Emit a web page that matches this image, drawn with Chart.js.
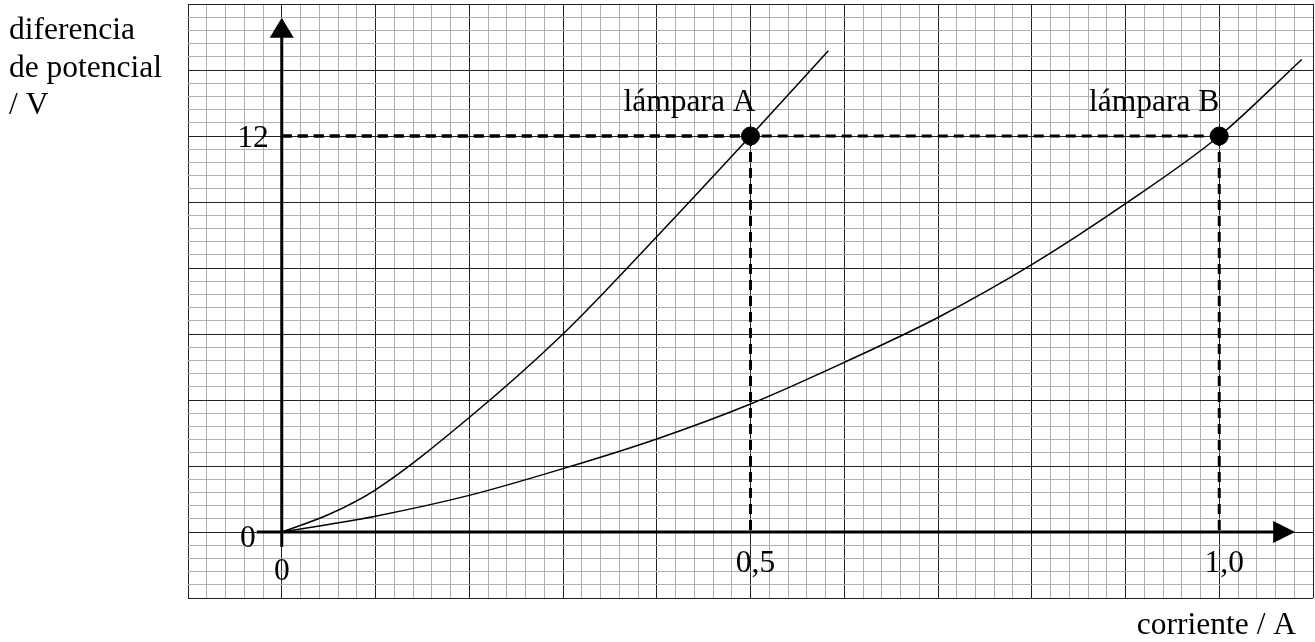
<!DOCTYPE html>
<html>
<head>
<meta charset="utf-8">
<script src="https://cdn.jsdelivr.net/npm/chart.js@4.4.1/dist/chart.umd.min.js"></script>
<style>
  html, body { margin: 0; padding: 0; background: #fff; }
  canvas { display: block; }
</style>
</head>
<body>
<canvas id="ivChart" width="1315" height="642"></canvas>
<script>
// I-V curves (current in A, potential difference in V)
const lampA_I = [0, 0.05, 0.1, 0.2, 0.3, 0.4, 0.5, 0.583];
const lampA_V = [0, 0.53, 1.28, 3.47, 6.0, 8.95, 12, 14.58];
const lampB_I = [0, 0.05, 0.1, 0.2, 0.3, 0.4, 0.5, 0.6, 0.7, 0.8, 0.9, 1.0, 1.088];
const lampB_V = [0, 0.23, 0.48, 1.11, 1.92, 2.82, 3.88, 5.14, 6.5, 8.1, 9.95, 12, 14.32];

// marked operating points
const opLabels = ['lámpara A', 'lámpara B'];
const opCurrent = [0.5, 1.0];
const opVoltage = [12, 12];

// axis numbers and titles
const xTickValues = [0, 0.5, 1.0];
const xTickLabels = ['0', '0,5', '1,0'];
const yTickValues = [0, 12];
const yTickLabels = ['0', '12'];
const yTitle = ['diferencia', 'de potencial', '/ V'];
const xTitle = 'corriente / A';

const FONT = '31.5px "Liberation Serif", "Times New Roman", serif';

const toPoints = (xs, ys) => xs.map((v, i) => ({ x: v, y: ys[i] }));

// major line every 5 minor squares
const isMajor = (v, step) => Math.abs(v / step - Math.round(v / step)) < 1e-6;

const paperPlugin = {
    id: 'paper',
    beforeDatasetsDraw(chart) {
        const { ctx, scales: { x, y } } = chart;
        const x0 = x.getPixelForValue(0);
        const y0 = y.getPixelForValue(0);
        ctx.save();
        ctx.strokeStyle = '#000';
        ctx.fillStyle = '#000';
        ctx.lineWidth = 3;

        // horizontal axis with arrow
        const xTip = x.getPixelForValue(1.081);
        ctx.beginPath();
        ctx.moveTo(x0 - 25, y0);
        ctx.lineTo(xTip - 20, y0);
        ctx.stroke();
        ctx.beginPath();
        ctx.moveTo(xTip, y0);
        ctx.lineTo(xTip - 22, y0 - 11);
        ctx.lineTo(xTip - 22, y0 + 11);
        ctx.closePath();
        ctx.fill();

        // vertical axis with arrow
        const yTip = y.getPixelForValue(15.58);
        ctx.beginPath();
        ctx.moveTo(x0, y0 + 15);
        ctx.lineTo(x0, yTip + 18);
        ctx.stroke();
        ctx.beginPath();
        ctx.moveTo(x0, yTip);
        ctx.lineTo(x0 - 12, yTip + 20);
        ctx.lineTo(x0 + 12, yTip + 20);
        ctx.closePath();
        ctx.fill();
        ctx.restore();
    },
    afterDraw(chart) {
        const { ctx, scales: { x, y } } = chart;
        const x0 = x.getPixelForValue(0);
        const y0 = y.getPixelForValue(0);
        ctx.save();
        ctx.fillStyle = '#000';
        ctx.font = FONT;
        ctx.textBaseline = 'alphabetic';

        // numbers on the current axis
        ctx.textAlign = 'center';
        xTickValues.forEach((v, i) => {
            const px = x.getPixelForValue(v) + (i === 0 ? 0 : 5);
            ctx.fillText(xTickLabels[i], px, y0 + (i === 0 ? 48 : 40));
        });

        // numbers on the voltage axis
        ctx.textAlign = 'right';
        yTickValues.forEach((v, i) => {
            const py = y.getPixelForValue(v);
            if (v === 0) ctx.fillText(yTickLabels[i], x0 - 26, py + 15);
            else ctx.fillText(yTickLabels[i], x0 - 13, py + 11);
        });

        // lamp names above their points
        opLabels.forEach((t, i) => {
            ctx.fillText(t, x.getPixelForValue(opCurrent[i]) + (i === 0 ? 5 : 0), y.getPixelForValue(opVoltage[i]) - 25);
        });

        // axis titles outside the paper
        ctx.textAlign = 'left';
        yTitle.forEach((t, i) => ctx.fillText(t, 9, 39 + i * 37.5));
        ctx.textAlign = 'right';
        ctx.fillText(xTitle, 1296, 634);
        ctx.restore();
    }
};

// dashed guides from each operating point to both axes
const guides = [];
opCurrent.forEach((c, i) => {
    guides.push([{ x: 0, y: opVoltage[i] }, { x: c, y: opVoltage[i] }]);
    guides.push([{ x: c, y: opVoltage[i] }, { x: c, y: 0 }]);
});

new Chart(document.getElementById('ivChart'), {
    type: 'scatter',
    data: {
        datasets: [
            {
                label: 'lámpara A',
                data: toPoints(lampA_I, lampA_V),
                showLine: true,
                borderColor: '#000',
                borderWidth: 1.5,
                cubicInterpolationMode: 'monotone',
                pointRadius: 0
            },
            {
                label: 'lámpara B',
                data: toPoints(lampB_I, lampB_V),
                showLine: true,
                borderColor: '#000',
                borderWidth: 1.5,
                cubicInterpolationMode: 'monotone',
                pointRadius: 0
            },
            ...guides.map(g => ({
                data: g,
                showLine: true,
                borderColor: '#000',
                borderWidth: 3,
                borderDash: [10, 6],
                pointRadius: 0
            })),
            {
                label: 'puntos',
                data: toPoints(opCurrent, opVoltage),
                pointRadius: 9,
                pointBackgroundColor: '#000',
                pointBorderColor: '#000',
                showLine: false
            }
        ]
    },
    options: {
        responsive: false,
        animation: false,
        events: [],
        layout: { autoPadding: false, padding: { left: 188, top: 4, right: 2, bottom: 44 } },
        plugins: {
            legend: { display: false },
            tooltip: { enabled: false }
        },
        scales: {
            x: {
                type: 'linear',
                min: -0.1,
                max: 1.1,
                ticks: { display: false, stepSize: 0.02, autoSkip: false },
                grid: {
                    drawTicks: false,
                    lineWidth: 1,
                    color: c => (c.tick && isMajor(c.tick.value, 0.1)) ? '#222' : '#b0b0b0'
                },
                border: { display: false }
            },
            y: {
                type: 'linear',
                min: -2,
                max: 16,
                ticks: { display: false, stepSize: 0.4, autoSkip: false },
                grid: {
                    drawTicks: false,
                    lineWidth: 1,
                    color: c => (c.tick && isMajor(c.tick.value, 2)) ? '#222' : '#b0b0b0'
                },
                border: { display: false }
            }
        }
    },
    plugins: [paperPlugin]
});
</script>
</body>
</html>
